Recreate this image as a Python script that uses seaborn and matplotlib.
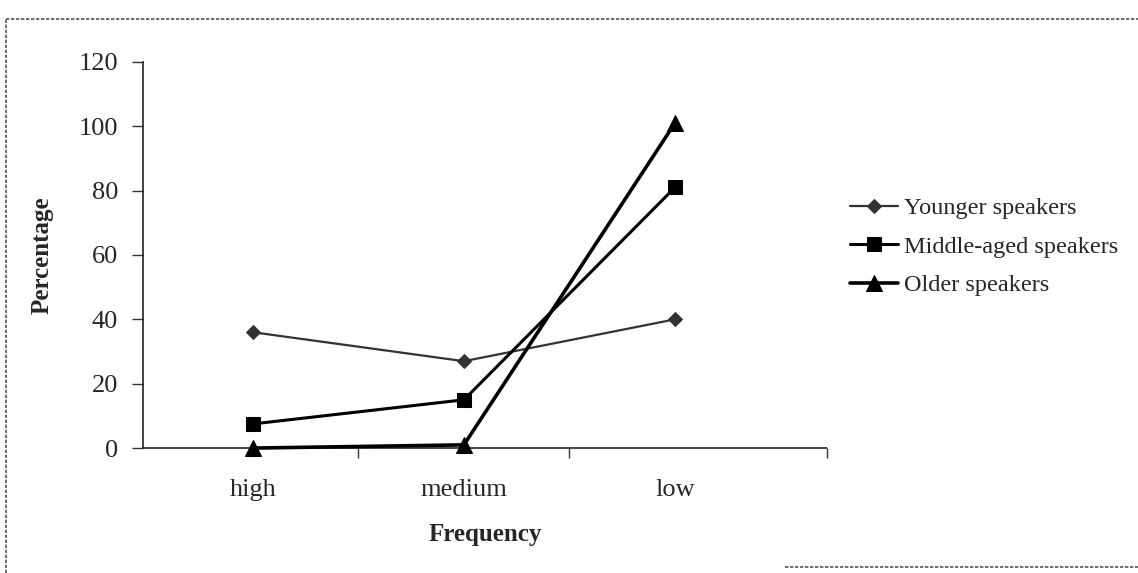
import pandas as pd
import numpy as np
import matplotlib.pyplot as plt
import seaborn as sns
from matplotlib.lines import Line2D

# Data
categories = ['high', 'medium', 'low']
younger = [36, 27, 40]
middle = [7.5, 15, 81]
older = [0, 1, 101]
series_names = ['Younger speakers', 'Middle-aged speakers', 'Older speakers']

df = pd.DataFrame({
    'Frequency': categories * 3,
    'x': list(range(len(categories))) * 3,
    'Percentage': younger + middle + older,
    'group': [s for s in series_names for _ in categories],
})

sns.set_style('white')
plt.rcParams['font.family'] = ['Liberation Serif', 'DejaVu Serif']

fig = plt.figure(figsize=(11.38, 5.73), dpi=100)
ax = fig.add_axes([0.1257, 0.218, 0.6010, 0.674])

styles = {
    'Younger speakers': dict(marker='D', ms=7, lw=1.6, color='#333333'),
    'Middle-aged speakers': dict(marker='s', ms=10, lw=2.2, color='black'),
    'Older speakers': dict(marker='^', ms=11, lw=2.6, color='black'),
}

for name in series_names:
    st = styles[name]
    sns.lineplot(data=df[df['group'] == name], x='x', y='Percentage', ax=ax,
                 color=st['color'], lw=st['lw'], marker=st['marker'],
                 markersize=st['ms'], markeredgecolor=st['color'],
                 label=name, clip_on=False, zorder=3)

ax.set_xlim(-0.52, 2.72)
ax.set_ylim(0, 120)
ax.set_yticks(np.arange(0, 121, 20))
ax.set_xticks(range(len(categories)))
ax.set_xticklabels(categories)
ax.set_xticks([0.5, 1.5, 2.72], minor=True)

for side in ['top', 'right']:
    ax.spines[side].set_visible(False)
for side in ['left', 'bottom']:
    ax.spines[side].set_color('#222222')
    ax.spines[side].set_linewidth(1.2)
    ax.spines[side].set_linestyle((0, (2, 1)))

ax.tick_params(axis='y', which='major', direction='out', length=8, width=1,
               color='#333333', labelsize=19, pad=10, left=True)
ax.tick_params(axis='x', which='major', length=0, labelsize=19, pad=22)
ax.tick_params(axis='x', which='minor', direction='out', length=7, width=1,
               color='#333333', bottom=True)

ax.set_xlabel('Frequency', fontsize=18, fontweight='bold', labelpad=16)
ax.set_ylabel('Percentage', fontsize=18, fontweight='bold', labelpad=18)

leg = ax.legend(loc='center left', bbox_to_anchor=(1.019, 0.521), frameon=False,
                fontsize=17.5, handlelength=2.0, handletextpad=0.25,
                labelspacing=0.68, borderaxespad=0)

# dotted scan frame: top and left edges, part of the bottom edge
frame_kw = dict(transform=fig.transFigure, color='#555555', lw=1.2, ls=(0, (2, 1)))
fig.add_artist(Line2D([0.005, 1.0], [0.967, 0.967], **frame_kw))
fig.add_artist(Line2D([0.005, 0.005], [0.0, 0.967], **frame_kw))
fig.add_artist(Line2D([0.69, 1.0], [0.01, 0.01], **frame_kw))

fig.savefig('out.png', dpi=100, facecolor='white')
